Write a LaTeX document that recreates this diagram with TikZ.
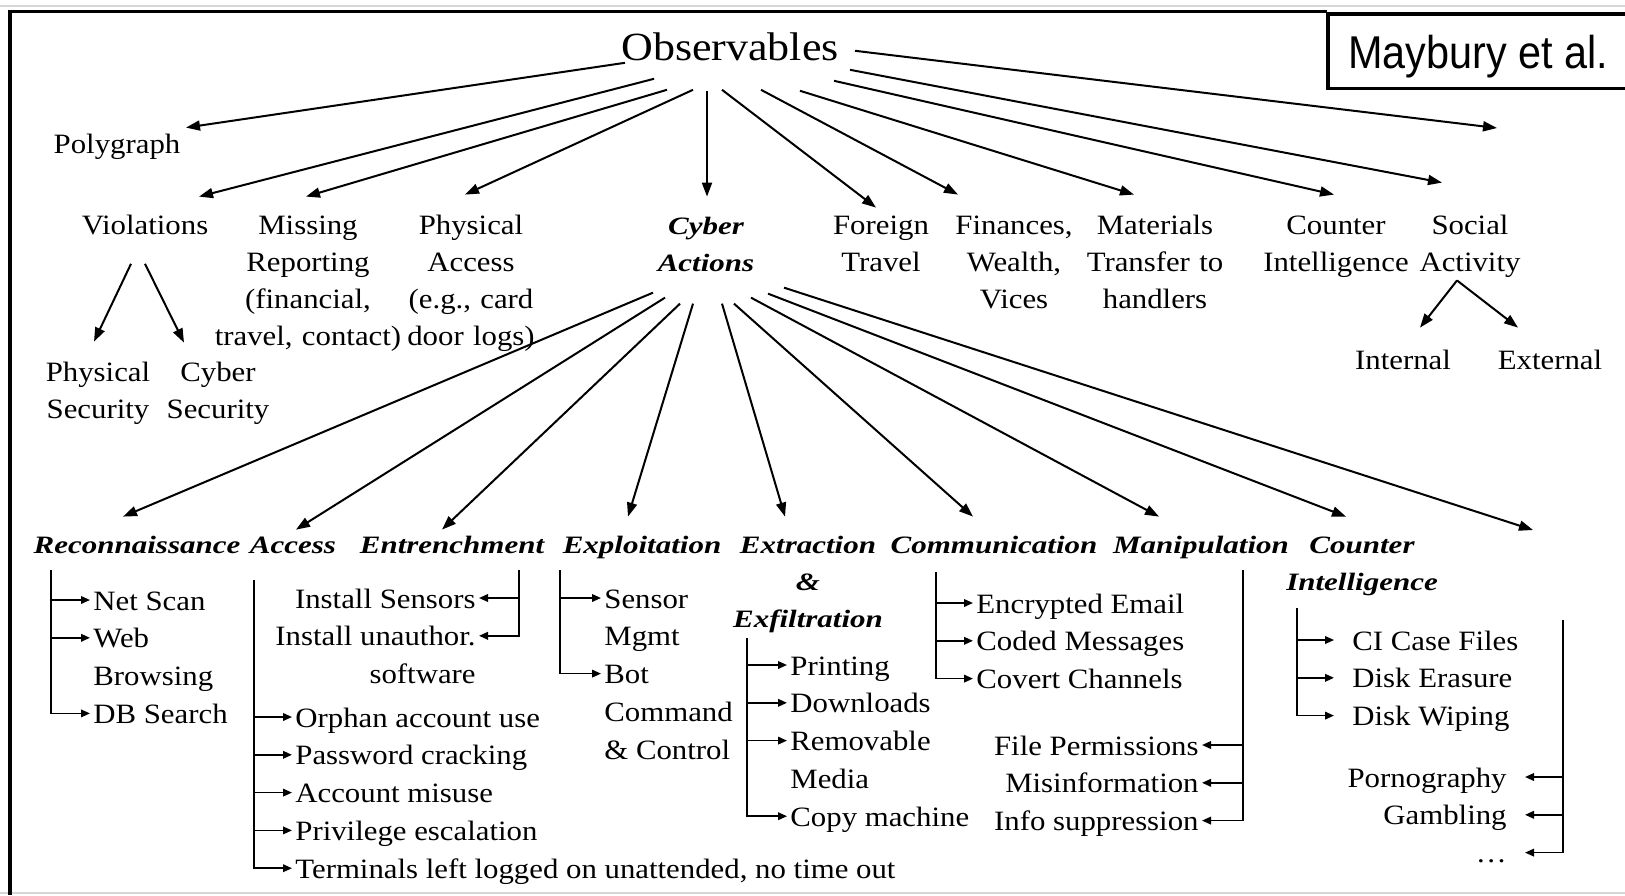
\documentclass[tikz,border=0pt]{standalone}
\usepackage{fontspec}
\setmainfont{Liberation Serif}[FakeStretch=1.1]
\newfontfamily\catfont{Liberation Serif}[FakeStretch=1.24]
\newfontfamily\tagfont{Liberation Sans}[FakeStretch=0.9]
\usepackage{tikz}
\usetikzlibrary{arrows.meta,positioning}
\definecolor{edge}{HTML}{D6D6D6}

\begin{document}
\begin{tikzpicture}[x=0.5pt,y=-0.5pt,node distance=8.5pt,>=Triangle,
 lbl/.style={inner sep=0pt,text width=4.2cm,align=center,anchor=base,text height=9.5pt,font=\fontsize{14pt}{18.5pt}\selectfont},
 cat/.style={inner sep=0pt,text width=4.2cm,align=center,anchor=base,text height=9pt,font=\catfont\bfseries\itshape\fontsize{12.5pt}{18.5pt}\selectfont},
 item/.style={inner ysep=0pt,inner xsep=1.5pt,text height=10pt,text depth=0pt,font=\fontsize{14pt}{18.5pt}\selectfont},
 gap/.style={inner xsep=9pt},
 arr/.style={->,line width=1pt,>={Triangle[length=7pt,width=5pt]}},
 sub/.style={->,line width=0.85pt,>={Triangle[length=4.5pt,width=3.8pt]}}]
 \useasboundingbox (0,0) rectangle (1625,895);
 \draw[edge,line width=0.6pt] (0,6) -- (1625,6);
 \draw[edge,line width=0.6pt] (0,893) -- (1625,893);
 \draw[line width=1.6pt] (10,895) -- (10,11.5) -- (1327,11.5);
 \node[draw,line width=1.75pt,inner xsep=10pt,inner ysep=10.25pt,text depth=0pt,anchor=base,font=\tagfont\fontsize{23pt}{27pt}\selectfont] (tag) at (1478,68) {Maybury et al.};

 \node[inner sep=0pt,anchor=base,font=\fontsize{20pt}{24pt}\selectfont] (obs) at (730,60) {Observables};
 \node[lbl] (poly) at (117,153) {Polygraph};
 \node[lbl] (viol) at (145,234) {Violations};
 \node[lbl] (miss) at (308,234) {Missing\\Reporting\\(financial,\\travel, contact)};
 \node[lbl] (pacc) at (471,234) {Physical\\Access\\(e.g., card\\door logs)};
 \node[cat] (cyber) at (706,234) {Cyber\\Actions};
 \node[lbl] (forg) at (881,234) {Foreign\\Travel};
 \node[lbl] (finc) at (1014,234) {Finances,\\Wealth,\\Vices};
 \node[lbl] (matl) at (1155,234) {Materials\\Transfer to\\handlers};
 \node[lbl] (cint) at (1336,234) {Counter\\Intelligence};
 \node[lbl] (socl) at (1470,234) {Social\\Activity};
 \node[lbl] (physec) at (98,381) {Physical\\Security};
 \node[lbl] (cybsec) at (218,381) {Cyber\\Security};
 \node[lbl] (intern) at (1403,369) {Internal};
 \node[lbl] (extern) at (1550,369) {External};
 \coordinate (obsend) at (1497,128);

 \draw[arr] ([shift={(-105,2)}]obs.south) -- ([shift={(69,-6)}]poly.north);
 \draw[arr] ([shift={(-76,18)}]obs.south) -- ([shift={(54,-18)}]viol.north);
 \draw[arr] ([shift={(-63,29)}]obs.south) -- ([shift={(-2,-18)}]miss.north);
 \draw[arr] ([shift={(-37,29)}]obs.south) -- ([shift={(-6,-20)}]pacc.north);
 \draw[arr] ([shift={(-23,30)}]obs.south) -- ([shift={(1,-19)}]cyber.north);
 \draw[arr] ([shift={(-8,29)}]obs.south) -- ([shift={(-5,-7)}]forg.north);
 \draw[arr] ([shift={(31,29)}]obs.south) -- ([shift={(-56,-20)}]finc.north);
 \draw[arr] ([shift={(70,30)}]obs.south) -- ([shift={(-21,-20)}]matl.north);
 \draw[arr] ([shift={(104,20)}]obs.south) -- ([shift={(-2,-20)}]cint.north);
 \draw[arr] ([shift={(120,9)}]obs.south) -- ([shift={(-28,-32)}]socl.north);
 \draw[arr] ([shift={(125,-10)}]obs.south) -- (obsend);
 \draw[arr] ([shift={(-14,29)}]viol.south) -- ([shift={(-4,-20)}]physec.north);
 \draw[arr] ([shift={(0,29)}]viol.south) -- ([shift={(-34,-19)}]cybsec.north);
 \draw[arr] ([shift={(-13,3)}]socl.south) -- ([shift={(17,-22)}]intern.north);
 \draw[arr] ([shift={(-13,3)}]socl.south) -- ([shift={(-32,-22)}]extern.north);

 \node[cat] (recon) at (137,553) {Reconnaissance};
 \node[cat] (access) at (293,553) {Access};
 \node[cat] (entr) at (452,553) {Entrenchment};
 \node[cat] (expl) at (642,553) {Exploitation};
 \node[cat] (extr) at (808,553) {Extraction\\\&\\Exfiltration};
 \node[cat] (comm) at (994,553) {Communication};
 \node[cat] (manip) at (1201,553) {Manipulation};
 \node[cat] (counter) at (1362,553) {Counter\\Intelligence};
 \coordinate (cyberend) at (1533,530);

 \draw[arr] ([shift={(-53,21)}]cyber.south) -- ([shift={(-14,-18)}]recon.north);
 \draw[arr] ([shift={(-41,26)}]cyber.south) -- ([shift={(3,-5)}]access.north);
 \draw[arr] ([shift={(-26,32)}]cyber.south) -- ([shift={(-10,-5)}]entr.north);
 \draw[arr] ([shift={(-13,32)}]cyber.south) -- ([shift={(-14,-18)}]expl.north);
 \draw[arr] ([shift={(16,32)}]cyber.south) -- ([shift={(-23,-18)}]extr.north);
 \draw[arr] ([shift={(28,32)}]cyber.south) -- ([shift={(-21,-18)}]comm.north);
 \draw[arr] ([shift={(45,26)}]cyber.south) -- ([shift={(-42,-18)}]manip.north);
 \draw[arr] ([shift={(62,22)}]cyber.south) -- ([shift={(-16,-18)}]counter.north);
 \draw[arr] ([shift={(78,16)}]cyber.south) -- (cyberend);

 \coordinate (rbus) at (51,570);
 \node[item,anchor=base west] (net) at (90,610) {Net Scan};
 \node[item,below=of net.south west,anchor=north west] (web) {Web};
 \node[item,below=of web.south west,anchor=north west] (brow) {Browsing};
 \node[item,below=of brow.south west,anchor=north west] (dbs) {DB Search};
 \draw[sub] (rbus |- net) -- (net);
 \draw[sub] (rbus |- web) -- (web);
 \draw[sub] (rbus) |- (dbs);

 \coordinate (abus) at (254,580);
 \node[item,anchor=base west] (orph) at (292,727) {Orphan account use};
 \node[item,below=of orph.south west,anchor=north west] (pass) {Password cracking};
 \node[item,below=of pass.south west,anchor=north west] (acct) {Account misuse};
 \node[item,below=of acct.south west,anchor=north west] (priv) {Privilege escalation};
 \node[item,below=of priv.south west,anchor=north west] (term) {Terminals left logged on unattended, no time out};
 \draw[sub] (abus |- orph) -- (orph);
 \draw[sub] (abus |- pass) -- (pass);
 \draw[sub] (abus |- acct) -- (acct);
 \draw[sub] (abus |- priv) -- (priv);
 \draw[sub] (abus) |- (term);

 \coordinate (ebus) at (519,570);
 \node[item,anchor=base east] (inst) at (479,608) {Install Sensors};
 \node[item,below=of inst.south east,anchor=north east] (unau) {Install unauthor.};
 \node[item,below=of unau.south east,anchor=north east] (soft) {software};
 \draw[sub] (ebus |- inst) -- (inst);
 \draw[sub] (ebus) |- (unau);

 \coordinate (xbus) at (560,570);
 \node[item,anchor=base west] (sens) at (601,608) {Sensor};
 \node[item,below=of sens.south west,anchor=north west] (mgmt) {Mgmt};
 \node[item,below=of mgmt.south west,anchor=north west] (bot) {Bot};
 \node[item,below=of bot.south west,anchor=north west] (cmnd) {Command};
 \node[item,below=of cmnd.south west,anchor=north west] (ctrl) {\& Control};
 \draw[sub] (xbus |- sens) -- (sens);
 \draw[sub] (xbus) |- (bot);

 \coordinate (fbus) at (747,638);
 \node[item,anchor=base west] (prnt) at (787,675) {Printing};
 \node[item,below=of prnt.south west,anchor=north west] (dnld) {Downloads};
 \node[item,below=of dnld.south west,anchor=north west] (remv) {Removable};
 \node[item,below=of remv.south west,anchor=north west] (medi) {Media};
 \node[item,below=of medi.south west,anchor=north west] (copy) {Copy machine};
 \draw[sub] (fbus |- prnt) -- (prnt);
 \draw[sub] (fbus |- dnld) -- (dnld);
 \draw[sub] (fbus |- remv) -- (remv);
 \draw[sub] (fbus) |- (copy);

 \coordinate (cbus) at (936,572);
 \node[item,anchor=base west] (encr) at (973,613) {Encrypted Email};
 \node[item,below=of encr.south west,anchor=north west] (code) {Coded Messages};
 \node[item,below=of code.south west,anchor=north west] (covt) {Covert Channels};
 \draw[sub] (cbus |- encr) -- (encr);
 \draw[sub] (cbus |- code) -- (code);
 \draw[sub] (cbus) |- (covt);

 \coordinate (mbus) at (1243,570);
 \node[item,anchor=base east] (perm) at (1202,755) {File Permissions};
 \node[item,below=of perm.south east,anchor=north east] (misi) {Misinformation};
 \node[item,below=of misi.south east,anchor=north east] (supp) {Info suppression};
 \draw[sub] (mbus |- perm) -- (perm);
 \draw[sub] (mbus |- misi) -- (misi);
 \draw[sub] (mbus) |- (supp);

 \coordinate (ibus) at (1297,608);
 \node[item,gap,anchor=base west] (cifl) at (1334,650) {CI Case Files};
 \node[item,gap,below=of cifl.south west,anchor=north west] (eras) {Disk Erasure};
 \node[item,gap,below=of eras.south west,anchor=north west] (wipe) {Disk Wiping};
 \draw[sub] (ibus |- cifl) -- (cifl);
 \draw[sub] (ibus |- eras) -- (eras);
 \draw[sub] (ibus) |- (wipe);

 \coordinate (vbus) at (1563,620);
 \node[item,gap,anchor=base east] (porn) at (1525,787) {Pornography};
 \node[item,gap,below=of porn.south east,anchor=north east] (gamb) {Gambling};
 \node[item,gap,below=of gamb.south east,anchor=north east] (more) {\dots};
 \draw[sub] (vbus |- porn) -- (porn);
 \draw[sub] (vbus |- gamb) -- (gamb);
 \draw[sub] (vbus) |- (more);
\end{tikzpicture}
\end{document}
